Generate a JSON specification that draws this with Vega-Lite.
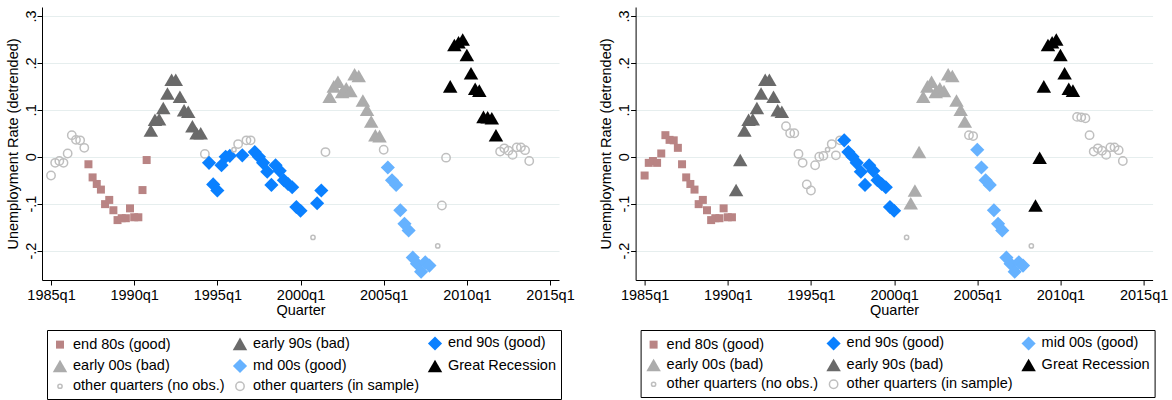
{
  "$schema": "https://vega.github.io/schema/vega-lite/v6.json",
  "background": "white",
  "padding": {"left": 5, "top": 7, "right": 5, "bottom": 0},
  "config": {
    "font": "Liberation Sans",
    "view": {"stroke": null},
    "axis": {
      "labelFont": "Liberation Sans", "titleFont": "Liberation Sans",
      "labelFontSize": 14.5, "titleFontSize": 14.5, "titleFontWeight": "normal",
      "labelColor": "#000", "titleColor": "#000", "tickColor": "#000", "domainColor": "#000",
      "tickSize": 5, "domainWidth": 1, "tickWidth": 1
    },
    "legend": {
      "orient": "none", "legendX": 5, "legendY": 323, "columns": 3, "direction": "horizontal",
      "strokeColor": "#000", "fillColor": "#fff", "padding": 5,
      "labelFont": "Liberation Sans", "labelFontSize": 14.5, "labelColor": "#000", "labelLimit": 0,
      "rowPadding": 1, "columnPadding": 4, "labelOffset": 5, "symbolStrokeWidth": 1.5, "title": null
    }
  },
  "resolve": {
    "scale": {"fill": "independent", "stroke": "independent", "shape": "independent", "size": "independent"},
    "legend": {"fill": "independent", "stroke": "independent", "shape": "independent", "size": "independent"}
  },
  "datasets": {
    "u": [
      {"t": 1985.00, "y": -0.040, "a": "other quarters (in sample)", "b": "end 80s (good)"},
      {"t": 1985.25, "y": -0.013, "a": "other quarters (in sample)", "b": "end 80s (good)"},
      {"t": 1985.50, "y": -0.009, "a": "other quarters (in sample)", "b": "end 80s (good)"},
      {"t": 1985.75, "y": -0.013, "a": "other quarters (in sample)", "b": "end 80s (good)"},
      {"t": 1986.00, "y": 0.007, "a": "other quarters (in sample)", "b": "end 80s (good)"},
      {"t": 1986.25, "y": 0.046, "a": "other quarters (in sample)", "b": "end 80s (good)"},
      {"t": 1986.50, "y": 0.036, "a": "other quarters (in sample)", "b": "end 80s (good)"},
      {"t": 1986.75, "y": 0.035, "a": "other quarters (in sample)", "b": "end 80s (good)"},
      {"t": 1987.00, "y": 0.019, "a": "other quarters (in sample)", "b": "end 80s (good)"},
      {"t": 1987.25, "y": -0.016, "a": "end 80s (good)", "b": "end 80s (good)"},
      {"t": 1987.50, "y": -0.044, "a": "end 80s (good)", "b": "end 80s (good)"},
      {"t": 1987.75, "y": -0.058, "a": "end 80s (good)", "b": "end 80s (good)"},
      {"t": 1988.00, "y": -0.070, "a": "end 80s (good)", "b": "end 80s (good)"},
      {"t": 1988.25, "y": -0.101, "a": "end 80s (good)", "b": "end 80s (good)"},
      {"t": 1988.50, "y": -0.092, "a": "end 80s (good)", "b": "end 80s (good)"},
      {"t": 1988.75, "y": -0.114, "a": "end 80s (good)", "b": "end 80s (good)"},
      {"t": 1989.00, "y": -0.135, "a": "end 80s (good)", "b": "end 80s (good)"},
      {"t": 1989.25, "y": -0.131, "a": "end 80s (good)", "b": "end 80s (good)"},
      {"t": 1989.50, "y": -0.131, "a": "end 80s (good)", "b": "end 80s (good)"},
      {"t": 1989.75, "y": -0.110, "a": "end 80s (good)", "b": "end 80s (good)"},
      {"t": 1990.00, "y": -0.129, "a": "end 80s (good)", "b": "end 80s (good)"},
      {"t": 1990.25, "y": -0.129, "a": "end 80s (good)", "b": "end 80s (good)"},
      {"t": 1990.50, "y": -0.071, "a": "end 80s (good)", "b": "early 90s (bad)"},
      {"t": 1990.75, "y": -0.007, "a": "end 80s (good)", "b": "early 90s (bad)"},
      {"t": 1991.00, "y": 0.056, "a": "early 90s (bad)", "b": "early 90s (bad)"},
      {"t": 1991.25, "y": 0.079, "a": "early 90s (bad)", "b": "early 90s (bad)"},
      {"t": 1991.50, "y": 0.080, "a": "early 90s (bad)", "b": "early 90s (bad)"},
      {"t": 1991.75, "y": 0.104, "a": "early 90s (bad)", "b": "early 90s (bad)"},
      {"t": 1992.00, "y": 0.135, "a": "early 90s (bad)", "b": "early 90s (bad)"},
      {"t": 1992.25, "y": 0.164, "a": "early 90s (bad)", "b": "early 90s (bad)"},
      {"t": 1992.50, "y": 0.164, "a": "early 90s (bad)", "b": "early 90s (bad)"},
      {"t": 1992.75, "y": 0.128, "a": "early 90s (bad)", "b": "early 90s (bad)"},
      {"t": 1993.00, "y": 0.099, "a": "early 90s (bad)", "b": "early 90s (bad)"},
      {"t": 1993.25, "y": 0.096, "a": "early 90s (bad)", "b": "early 90s (bad)"},
      {"t": 1993.50, "y": 0.065, "a": "early 90s (bad)", "b": "other quarters (in sample)"},
      {"t": 1993.75, "y": 0.050, "a": "early 90s (bad)", "b": "other quarters (in sample)"},
      {"t": 1994.00, "y": 0.050, "a": "early 90s (bad)", "b": "other quarters (in sample)"},
      {"t": 1994.25, "y": 0.006, "a": "other quarters (in sample)", "b": "other quarters (in sample)"},
      {"t": 1994.50, "y": -0.013, "a": "end 90s (good)", "b": "other quarters (in sample)"},
      {"t": 1994.75, "y": -0.059, "a": "end 90s (good)", "b": "other quarters (in sample)"},
      {"t": 1995.00, "y": -0.072, "a": "end 90s (good)", "b": "other quarters (in sample)"},
      {"t": 1995.25, "y": -0.018, "a": "end 90s (good)", "b": "other quarters (in sample)"},
      {"t": 1995.50, "y": 0.000, "a": "end 90s (good)", "b": "other quarters (in sample)"},
      {"t": 1995.75, "y": 0.002, "a": "end 90s (good)", "b": "other quarters (in sample)"},
      {"t": 1996.00, "y": 0.015, "a": "other quarters (no obs.)", "b": "other quarters (no obs.)"},
      {"t": 1996.25, "y": 0.027, "a": "other quarters (in sample)", "b": "other quarters (in sample)"},
      {"t": 1996.50, "y": 0.003, "a": "end 90s (good)", "b": "other quarters (in sample)"},
      {"t": 1996.75, "y": 0.035, "a": "other quarters (in sample)", "b": "other quarters (in sample)"},
      {"t": 1997.00, "y": 0.035, "a": "other quarters (in sample)", "b": "end 90s (good)"},
      {"t": 1997.25, "y": 0.010, "a": "end 90s (good)", "b": "end 90s (good)"},
      {"t": 1997.50, "y": 0.000, "a": "end 90s (good)", "b": "end 90s (good)"},
      {"t": 1997.75, "y": -0.013, "a": "end 90s (good)", "b": "end 90s (good)"},
      {"t": 1998.00, "y": -0.032, "a": "end 90s (good)", "b": "end 90s (good)"},
      {"t": 1998.25, "y": -0.060, "a": "end 90s (good)", "b": "end 90s (good)"},
      {"t": 1998.50, "y": -0.018, "a": "end 90s (good)", "b": "end 90s (good)"},
      {"t": 1998.75, "y": -0.030, "a": "end 90s (good)", "b": "end 90s (good)"},
      {"t": 1999.00, "y": -0.050, "a": "end 90s (good)", "b": "end 90s (good)"},
      {"t": 1999.25, "y": -0.058, "a": "end 90s (good)", "b": "end 90s (good)"},
      {"t": 1999.50, "y": -0.065, "a": "end 90s (good)", "b": "end 90s (good)"},
      {"t": 1999.75, "y": -0.107, "a": "end 90s (good)", "b": "end 90s (good)"},
      {"t": 2000.00, "y": -0.115, "a": "end 90s (good)", "b": "end 90s (good)"},
      {"t": 2000.75, "y": -0.172, "a": "other quarters (no obs.)", "b": "other quarters (no obs.)"},
      {"t": 2001.00, "y": -0.099, "a": "end 90s (good)", "b": "early 00s (bad)"},
      {"t": 2001.25, "y": -0.072, "a": "end 90s (good)", "b": "early 00s (bad)"},
      {"t": 2001.50, "y": 0.010, "a": "other quarters (in sample)", "b": "early 00s (bad)"},
      {"t": 2001.75, "y": 0.128, "a": "early 00s (bad)", "b": "early 00s (bad)"},
      {"t": 2002.00, "y": 0.150, "a": "early 00s (bad)", "b": "early 00s (bad)"},
      {"t": 2002.25, "y": 0.160, "a": "early 00s (bad)", "b": "early 00s (bad)"},
      {"t": 2002.50, "y": 0.138, "a": "early 00s (bad)", "b": "early 00s (bad)"},
      {"t": 2002.75, "y": 0.146, "a": "early 00s (bad)", "b": "early 00s (bad)"},
      {"t": 2003.00, "y": 0.140, "a": "early 00s (bad)", "b": "early 00s (bad)"},
      {"t": 2003.25, "y": 0.176, "a": "early 00s (bad)", "b": "early 00s (bad)"},
      {"t": 2003.50, "y": 0.172, "a": "early 00s (bad)", "b": "early 00s (bad)"},
      {"t": 2003.75, "y": 0.120, "a": "early 00s (bad)", "b": "early 00s (bad)"},
      {"t": 2004.00, "y": 0.100, "a": "early 00s (bad)", "b": "early 00s (bad)"},
      {"t": 2004.25, "y": 0.075, "a": "early 00s (bad)", "b": "early 00s (bad)"},
      {"t": 2004.50, "y": 0.046, "a": "early 00s (bad)", "b": "other quarters (in sample)"},
      {"t": 2004.75, "y": 0.044, "a": "early 00s (bad)", "b": "other quarters (in sample)"},
      {"t": 2005.00, "y": 0.015, "a": "other quarters (in sample)", "b": "mid 00s (good)"},
      {"t": 2005.25, "y": -0.023, "a": "md 00s (good)", "b": "mid 00s (good)"},
      {"t": 2005.50, "y": -0.050, "a": "md 00s (good)", "b": "mid 00s (good)"},
      {"t": 2005.75, "y": -0.060, "a": "md 00s (good)", "b": "mid 00s (good)"},
      {"t": 2006.00, "y": -0.114, "a": "md 00s (good)", "b": "mid 00s (good)"},
      {"t": 2006.25, "y": -0.143, "a": "md 00s (good)", "b": "mid 00s (good)"},
      {"t": 2006.50, "y": -0.157, "a": "md 00s (good)", "b": "mid 00s (good)"},
      {"t": 2006.75, "y": -0.215, "a": "md 00s (good)", "b": "mid 00s (good)"},
      {"t": 2007.00, "y": -0.228, "a": "md 00s (good)", "b": "mid 00s (good)"},
      {"t": 2007.25, "y": -0.245, "a": "md 00s (good)", "b": "mid 00s (good)"},
      {"t": 2007.50, "y": -0.225, "a": "md 00s (good)", "b": "mid 00s (good)"},
      {"t": 2007.75, "y": -0.232, "a": "md 00s (good)", "b": "mid 00s (good)"},
      {"t": 2008.25, "y": -0.190, "a": "other quarters (no obs.)", "b": "other quarters (no obs.)"},
      {"t": 2008.50, "y": -0.104, "a": "other quarters (in sample)", "b": "Great Recession"},
      {"t": 2008.75, "y": -0.002, "a": "other quarters (in sample)", "b": "Great Recession"},
      {"t": 2009.00, "y": 0.150, "a": "Great Recession", "b": "Great Recession"},
      {"t": 2009.25, "y": 0.238, "a": "Great Recession", "b": "Great Recession"},
      {"t": 2009.50, "y": 0.244, "a": "Great Recession", "b": "Great Recession"},
      {"t": 2009.75, "y": 0.250, "a": "Great Recession", "b": "Great Recession"},
      {"t": 2010.00, "y": 0.217, "a": "Great Recession", "b": "Great Recession"},
      {"t": 2010.25, "y": 0.178, "a": "Great Recession", "b": "Great Recession"},
      {"t": 2010.50, "y": 0.145, "a": "Great Recession", "b": "Great Recession"},
      {"t": 2010.75, "y": 0.141, "a": "Great Recession", "b": "Great Recession"},
      {"t": 2011.00, "y": 0.085, "a": "Great Recession", "b": "other quarters (in sample)"},
      {"t": 2011.25, "y": 0.084, "a": "Great Recession", "b": "other quarters (in sample)"},
      {"t": 2011.50, "y": 0.082, "a": "Great Recession", "b": "other quarters (in sample)"},
      {"t": 2011.75, "y": 0.046, "a": "Great Recession", "b": "other quarters (in sample)"},
      {"t": 2012.00, "y": 0.011, "a": "other quarters (in sample)", "b": "other quarters (in sample)"},
      {"t": 2012.25, "y": 0.018, "a": "other quarters (in sample)", "b": "other quarters (in sample)"},
      {"t": 2012.50, "y": 0.013, "a": "other quarters (in sample)", "b": "other quarters (in sample)"},
      {"t": 2012.75, "y": 0.004, "a": "other quarters (in sample)", "b": "other quarters (in sample)"},
      {"t": 2013.00, "y": 0.020, "a": "other quarters (in sample)", "b": "other quarters (in sample)"},
      {"t": 2013.25, "y": 0.020, "a": "other quarters (in sample)", "b": "other quarters (in sample)"},
      {"t": 2013.50, "y": 0.014, "a": "other quarters (in sample)", "b": "other quarters (in sample)"},
      {"t": 2013.75, "y": -0.009, "a": "other quarters (in sample)", "b": "other quarters (in sample)"}
    ]
  },
  "hconcat": [
    {
      "data": {"name": "u"},
      "width": 517, "height": 273,
      "mark": {"type": "point", "filled": true, "opacity": 1, "strokeWidth": 1.5},
      "encoding": {
        "x": {"field": "t", "type": "quantitative",
          "scale": {"domain": [1984.458, 2015.54], "nice": false, "zero": false},
          "axis": {"title": "Quarter", "values": [1985, 1990, 1995, 2000, 2005, 2010, 2015],
            "labelExpr": "format(datum.value, 'd') + 'q1'", "grid": false, "labelPadding": 3, "titlePadding": 2, "labelFlush": false}},
        "y": {"field": "y", "type": "quantitative",
          "scale": {"domain": [-0.2627, 0.3192], "nice": false, "zero": false},
          "axis": {"title": "Unemployment Rate (detrended)", "values": [-0.2, -0.1, 0, 0.1, 0.2, 0.3],
            "labelExpr": "datum.value == 0 ? '0' : (datum.value < 0 ? '-' + substring(format(abs(datum.value), '.1f'), 1) : substring(format(datum.value, '.1f'), 1))",
            "grid": true, "gridColor": "#e6eeee", "gridWidth": 1.2, "labelAngle": 270, "labelAlign": "center", "labelBaseline": "alphabetic",
            "labelPadding": 2, "titlePadding": 3, "labelFlush": false}},
        "fill": {"field": "a", "type": "nominal",
          "scale": {"domain": ["end 80s (good)", "early 90s (bad)", "end 90s (good)", "early 00s (bad)", "md 00s (good)", "Great Recession", "other quarters (no obs.)", "other quarters (in sample)"],
            "range": ["#b98484", "#6a6a6a", "#0a80ff", "#acacac", "#66b2ff", "#000000", "transparent", "transparent"]}},
        "stroke": {"field": "a", "type": "nominal",
          "scale": {"domain": ["end 80s (good)", "early 90s (bad)", "end 90s (good)", "early 00s (bad)", "md 00s (good)", "Great Recession", "other quarters (no obs.)", "other quarters (in sample)"],
            "range": ["transparent", "transparent", "transparent", "transparent", "transparent", "transparent", "#bfbfbf", "#bfbfbf"]}},
        "shape": {"field": "a", "type": "nominal",
          "scale": {"domain": ["end 80s (good)", "early 90s (bad)", "end 90s (good)", "early 00s (bad)", "md 00s (good)", "Great Recession", "other quarters (no obs.)", "other quarters (in sample)"],
            "range": ["square", "triangle-up", "diamond", "triangle-up", "diamond", "triangle-up", "circle", "circle"]}},
        "size": {"field": "a", "type": "nominal",
          "scale": {"type": "ordinal", "domain": ["end 80s (good)", "early 90s (bad)", "end 90s (good)", "early 00s (bad)", "md 00s (good)", "Great Recession", "other quarters (no obs.)", "other quarters (in sample)"],
            "range": [64, 210, 200, 210, 200, 210, 18, 70]}}
      }
    },
    {
      "data": {"name": "u"},
      "width": 517, "height": 273,
      "mark": {"type": "point", "filled": true, "opacity": 1, "strokeWidth": 1.5},
      "encoding": {
        "x": {"field": "t", "type": "quantitative",
          "scale": {"domain": [1984.458, 2015.54], "nice": false, "zero": false},
          "axis": {"title": "Quarter", "values": [1985, 1990, 1995, 2000, 2005, 2010, 2015],
            "labelExpr": "format(datum.value, 'd') + 'q1'", "grid": false, "labelPadding": 3, "titlePadding": 2, "labelFlush": false}},
        "y": {"field": "y", "type": "quantitative",
          "scale": {"domain": [-0.2627, 0.3192], "nice": false, "zero": false},
          "axis": {"title": "Unemployment Rate (detrended)", "values": [-0.2, -0.1, 0, 0.1, 0.2, 0.3],
            "labelExpr": "datum.value == 0 ? '0' : (datum.value < 0 ? '-' + substring(format(abs(datum.value), '.1f'), 1) : substring(format(datum.value, '.1f'), 1))",
            "grid": true, "gridColor": "#e6eeee", "gridWidth": 1.2, "labelAngle": 270, "labelAlign": "center", "labelBaseline": "alphabetic",
            "labelPadding": 2, "titlePadding": 3, "labelFlush": false}},
        "fill": {"field": "b", "type": "nominal",
          "scale": {"domain": ["end 80s (good)", "end 90s (good)", "mid 00s (good)", "early 00s (bad)", "early 90s (bad)", "Great Recession", "other quarters (no obs.)", "other quarters (in sample)"],
            "range": ["#b98484", "#0a80ff", "#66b2ff", "#acacac", "#6a6a6a", "#000000", "transparent", "transparent"]}},
        "stroke": {"field": "b", "type": "nominal",
          "scale": {"domain": ["end 80s (good)", "end 90s (good)", "mid 00s (good)", "early 00s (bad)", "early 90s (bad)", "Great Recession", "other quarters (no obs.)", "other quarters (in sample)"],
            "range": ["transparent", "transparent", "transparent", "transparent", "transparent", "transparent", "#bfbfbf", "#bfbfbf"]}},
        "shape": {"field": "b", "type": "nominal",
          "scale": {"domain": ["end 80s (good)", "end 90s (good)", "mid 00s (good)", "early 00s (bad)", "early 90s (bad)", "Great Recession", "other quarters (no obs.)", "other quarters (in sample)"],
            "range": ["square", "diamond", "diamond", "triangle-up", "triangle-up", "triangle-up", "circle", "circle"]}},
        "size": {"field": "b", "type": "nominal",
          "scale": {"type": "ordinal", "domain": ["end 80s (good)", "end 90s (good)", "mid 00s (good)", "early 00s (bad)", "early 90s (bad)", "Great Recession", "other quarters (no obs.)", "other quarters (in sample)"],
            "range": [64, 200, 200, 210, 210, 210, 18, 70]}}
      }
    }
  ],
  "spacing": 76.6,
  "bounds": "flush"
}
